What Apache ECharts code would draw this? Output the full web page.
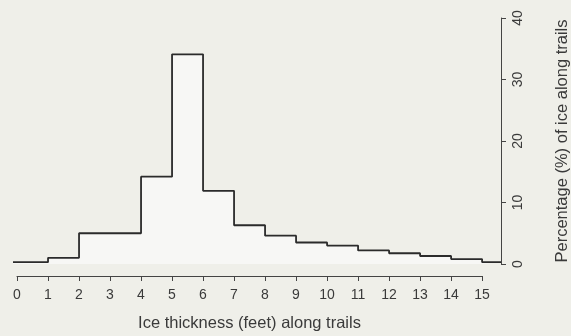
<!DOCTYPE html>
<html>
<head>
<meta charset="utf-8">
<script src="https://cdn.jsdelivr.net/npm/echarts@6/dist/echarts.min.js"></script>
<style>
  html, body { margin: 0; padding: 0; background: #efefe9; }
  #chart { width: 571px; height: 336px; }
</style>
</head>
<body>
<div id="chart"></div>
<script>
// Ice thickness histogram: lower edge of each 1-ft bin and share of ice (%)
const binStarts = [0, 1, 2, 3, 4, 5, 6, 7, 8, 9, 10, 11, 12, 13, 14, 15];
const percentages = [0.3, 1.0, 5.0, 5.0, 14.2, 34.1, 11.9, 6.3, 4.6, 3.5, 3.0, 2.2, 1.75, 1.3, 0.8, 0.3];
const xTickLabels = ['0','1','2','3','4','5','6','7','8','9','10','11','12','13','14','15'];
const yTickLabels = ['0','10','20','30','40'];

// plotting region runs slightly past the first and last labelled bin edge
const plotXMin = -0.13;
const plotXMax = 15.61;

const stepData = binStarts.map((x, i) => [i === 0 ? plotXMin : x, percentages[i]]);
stepData.push([plotXMax, percentages[percentages.length - 1]]);

const chart = echarts.init(document.getElementById('chart'), null, { renderer: 'canvas' });
const font = '"Liberation Sans", Arial, sans-serif';
const ink = '#3a3a3a';
const axisInk = '#444';

chart.setOption({
  backgroundColor: '#efefe9',
  animation: false,
  grid: [
    // plotting area (y axis on its right edge)
    { left: 13, right: 70, top: 18, bottom: 72, containLabel: false, outerBoundsMode: 'none' },
    // labelled thickness axis spanning 0..15 only
    { left: 17, right: 89, top: 18, bottom: 72, containLabel: false, outerBoundsMode: 'none' }
  ],
  xAxis: [
    {
      gridIndex: 0, type: 'value', min: plotXMin, max: plotXMax, show: false
    },
    {
      gridIndex: 1, type: 'value',
      min: 0, max: 15, interval: 1,
      offset: 12,
      name: 'Ice thickness (feet) along trails',
      nameLocation: 'middle',
      nameGap: 39,
      nameTextStyle: { color: ink, fontSize: 16.5, fontFamily: font },
      axisLine: { show: true, onZero: false, lineStyle: { color: axisInk, width: 1 } },
      axisTick: { show: true, length: 5, lineStyle: { color: axisInk } },
      axisLabel: {
        color: ink, fontSize: 14, fontFamily: font, margin: 12,
        formatter: v => xTickLabels[v] ?? ''
      },
      splitLine: { show: false }
    }
  ],
  yAxis: [
    {
      gridIndex: 0, type: 'value',
      position: 'right',
      min: 0, max: 40, interval: 10,
      name: 'Percentage (%) of ice along trails',
      nameLocation: 'middle',
      nameRotate: 90,
      nameGap: 53,
      nameTextStyle: { color: ink, fontSize: 16.5, fontFamily: font },
      axisLine: { show: true, onZero: false, lineStyle: { color: axisInk, width: 1 } },
      axisTick: { show: true, length: 5, lineStyle: { color: axisInk } },
      axisLabel: {
        color: ink, fontSize: 14, fontFamily: font, rotate: 90, margin: 10,
        formatter: v => yTickLabels[v / 10] ?? ''
      },
      splitLine: { show: false }
    },
    {
      gridIndex: 1, type: 'value', min: 0, max: 40, show: false
    }
  ],
  series: [{
    type: 'line',
    xAxisIndex: 0,
    yAxisIndex: 0,
    step: 'end',
    data: stepData,
    symbol: 'none',
    lineStyle: { color: '#2b2b2b', width: 1.8 },
    areaStyle: { color: 'rgba(255,255,255,0.75)', origin: 'start' }
  }]
});
</script>
</body>
</html>
